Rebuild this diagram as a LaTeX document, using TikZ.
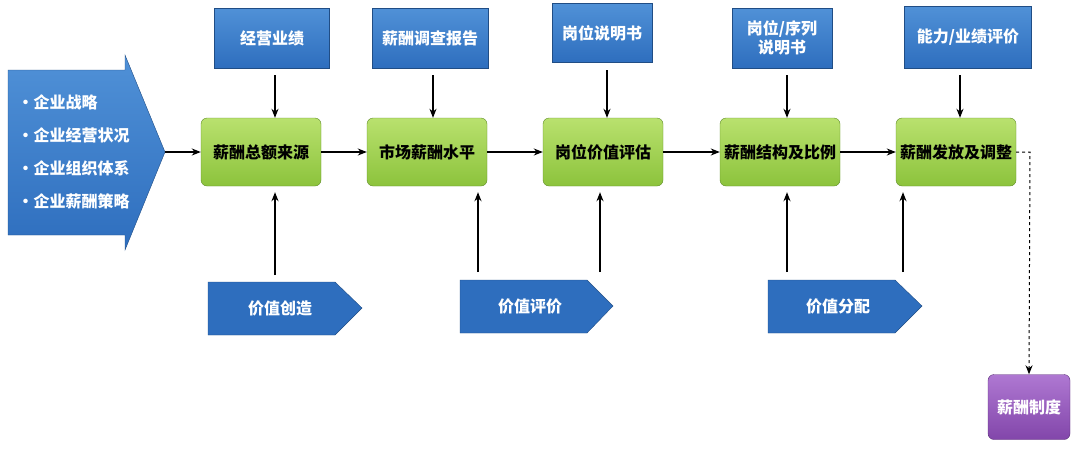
\documentclass[tikz,border=0pt]{standalone}
\usepackage{fontspec}
\setmainfont{Noto Sans CJK SC}
\usetikzlibrary{positioning,arrows.meta}
\definecolor{boxblue}{RGB}{46,110,190}
\definecolor{boxbluetop}{RGB}{80,145,215}
\definecolor{boxgreen}{RGB}{140,195,60}
\definecolor{boxgreentop}{RGB}{185,225,110}
\definecolor{linegreen}{RGB}{95,140,40}
\definecolor{boxpurple}{RGB}{130,70,170}
\definecolor{boxpurpletop}{RGB}{175,120,210}
\begin{document}
\begin{tikzpicture}[x=1pt,y=-1pt,
    every node/.style={font=\fontsize{16}{19}\selectfont\bfseries},
    info/.style={rectangle, draw=boxblue!70!black, top color=boxbluetop, bottom color=boxblue, text=white, align=center, inner sep=0pt},
    stage/.style={rectangle, draw=linegreen, rounded corners=6pt, top color=boxgreentop, bottom color=boxgreen, text=black, minimum width=120pt, minimum height=68pt, inner sep=0pt},
    value/.style={fill=boxblue, draw=boxblue!70!black},
    flow/.style={-{Stealth[length=9pt,width=7pt]}, line width=1.3pt}
]
\useasboundingbox (0,0) rectangle (1080,448);

% left strategy arrow
\path[info] (8,70) -- (125,70) -- (125,55) -- (165,152) -- (125,250) -- (125,235) -- (8,235) -- cycle;
\node[text=white, align=left, anchor=west] (Strategy) at (14,152)
    {•企业战略\\[14pt]•企业经营状况\\[14pt]•企业组织体系\\[14pt]•企业薪酬策略};
\coordinate (StrategyTip) at (165,152);

% main stages
\node[stage] (S1) at (261,152) {薪酬总额来源};
\node[stage] (S2) at (427,152) {市场薪酬水平};
\node[stage] (S3) at (603,152) {岗位价值评估};
\node[stage] (S4) at (780,152) {薪酬结构及比例};
\node[stage] (S5) at (956,152) {薪酬发放及调整};

% inputs on top
\node[info, minimum width=115pt, minimum height=60pt] (I1) at (272,38) {经营业绩};
\node[info, minimum width=116pt, minimum height=60pt] (I2) at (430,38) {薪酬调查报告};
\node[info, minimum width=100pt, minimum height=59pt] (I3) at (602,33) {岗位说明书};
\node[info, minimum width=100pt, minimum height=60pt] (I4) at (782,38) {岗位/序列\\说明书};
\node[info, minimum width=127pt, minimum height=62pt] (I5) at (968,37) {能力/业绩评价};

% value arrows at the bottom
\path[value] (208,282) -- (335,282) -- (362,308) -- (335,335) -- (208,335) -- cycle;
\node[text=white] (V1) at (280,308) {价值创造};
\path[value] (460,280) -- (587,280) -- (613,306) -- (587,333) -- (460,333) -- cycle;
\node[text=white] (V2) at (530,306) {价值评价};
\path[value] (768,280) -- (895,280) -- (922,306) -- (895,333) -- (768,333) -- cycle;
\node[text=white] (V3) at (838,306) {价值分配};

% system
\node[rectangle, rounded corners=6pt, draw=boxpurple!70!black, top color=boxpurpletop, bottom color=boxpurple, text=white, minimum width=82pt, minimum height=65pt] (System) at (1029,407) {薪酬制度};

% connections
\draw[flow] (StrategyTip) -- (S1);
\draw[flow] (S1) -- (S2);
\draw[flow] (S2) -- (S3);
\draw[flow] (S3) -- (S4);
\draw[flow] (S4) -- (S5);
\coordinate (T1) at (275,75); \coordinate (T2) at (433,75);
\coordinate (T3) at (607,70); \coordinate (T4) at (787,75);
\coordinate (T5) at (960,75);
\foreach \i in {1,...,5}
  \draw[flow] (T\i) -- (T\i |- S\i.north);
\coordinate (U1) at (275,275); \coordinate (U2) at (478,272);
\coordinate (U3) at (600,272); \coordinate (U4) at (787,272);
\coordinate (U5) at (903,272);
\foreach \i in {1,...,5}
  \draw[flow] (U\i) -- ([yshift=-6pt]U\i |- S\i.south);
\draw[flow, dashed, line width=1pt] (S5.east) -- (1030,152) -- (System.north);
\end{tikzpicture}
\end{document}
